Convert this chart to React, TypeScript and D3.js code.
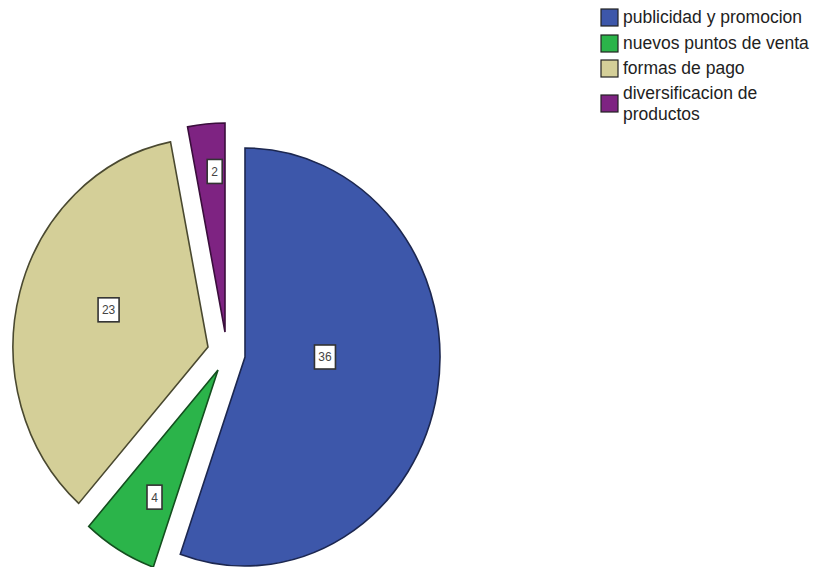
import React from "react";
import * as d3 from "d3";

const categories = [
  "publicidad y promocion",
  "nuevos puntos de venta",
  "formas de pago",
  "diversificacion de productos",
];
const values = [36, 4, 23, 2];
const legendLines = [
  ["publicidad y promocion"],
  ["nuevos puntos de venta"],
  ["formas de pago"],
  ["diversificacion de", "productos"],
];

const colors = ["#3d57aa", "#2bb44a", "#d4cf98", "#7e2382"];
const strokes = ["#1c2750", "#144f1f", "#4a4930", "#3a0e3c"];
// explode offsets (px), label radial fractions and angle nudges (deg) – styling
const explode = [
  [0, 0],
  [-27, 13],
  [-37, -10],
  [-20, -25],
];
const labelFrac = [0.41, 0.69, 0.54, 0.77];
const labelShift = [-9.7, -2.3, 4, 1.6];

const W = 819;
const H = 567;
const cx = 245;
const cy = 357;
const rx = 195;
const ry = 209;

export default function App() {
  const pie = d3
    .pie<number>()
    .sort(null)
    .value((d) => d)
    .startAngle(0)
    .endAngle(2 * Math.PI);
  const arcs = pie(values);
  const arc = d3.arc<d3.PieArcDatum<number>>().innerRadius(0).outerRadius(rx);
  const sy = ry / rx;

  const legendRowsY = [17, 43, 68, 103];

  return (
    <svg
      width={W}
      height={H}
      style={{ position: "absolute", left: 0, top: 0, background: "#fff" }}
      fontFamily="'Liberation Sans', Arial, sans-serif"
    >
      {arcs.map((a, i) => (
        <g key={i} transform={`translate(${cx + explode[i][0]},${cy + explode[i][1]})`}>
          <path
            d={arc(a) || ""}
            transform={`scale(1,${sy})`}
            fill={colors[i]}
            stroke={strokes[i]}
            strokeWidth={1.6}
            strokeLinejoin="miter"
            style={{ vectorEffect: "non-scaling-stroke" } as any}
          />
        </g>
      ))}
      {arcs.map((a, i) => {
        const mid = (a.startAngle + a.endAngle) / 2 + (labelShift[i] * Math.PI) / 180;
        const lx = cx + explode[i][0] + Math.sin(mid) * rx * labelFrac[i];
        const ly = cy + explode[i][1] - Math.cos(mid) * ry * labelFrac[i];
        const txt = String(values[i]);
        const bw = txt.length > 1 ? 21 : 15;
        const bh = 24;
        return (
          <g key={"l" + i} transform={`translate(${lx},${ly})`}>
            <rect
              x={-bw / 2}
              y={-bh / 2}
              width={bw}
              height={bh}
              fill="#fff"
              stroke="#333"
              strokeWidth={1.6}
            />
            <text x={0} y={4.5} textAnchor="middle" fontSize={12} fill="#444">
              {txt}
            </text>
          </g>
        );
      })}
      {categories.map((c, i) => {
        const lines = legendLines[i];
        const yc = legendRowsY[i];
        const first = yc - ((lines.length - 1) * 21) / 2;
        return (
          <g key={"lg" + i}>
            <rect
              x={601}
              y={yc - 8}
              width={17}
              height={17}
              fill={colors[i]}
              stroke="#222"
              strokeWidth={1.2}
            />
            {lines.map((ln, j) => (
              <text key={j} x={623} y={first + j * 21 + 6} fontSize={17.5} fill="#222">
                {ln}
              </text>
            ))}
          </g>
        );
      })}
    </svg>
  );
}
